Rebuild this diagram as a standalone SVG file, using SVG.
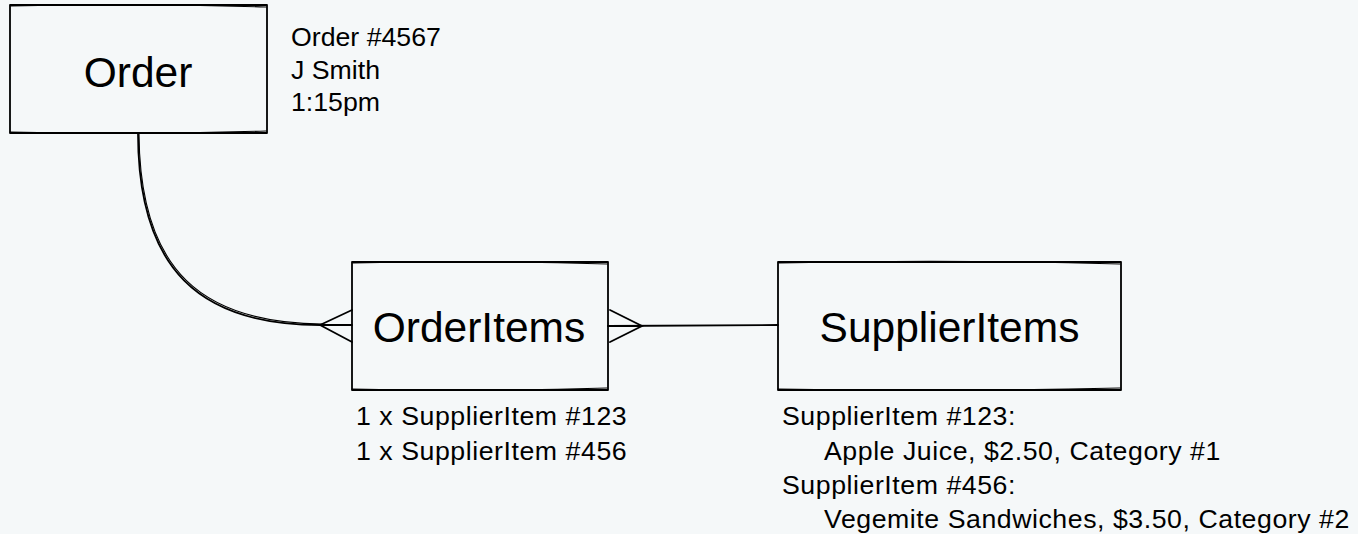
<svg xmlns="http://www.w3.org/2000/svg" width="1358" height="534" viewBox="0 0 1358 534">
<style>
.box{fill:none;stroke:#000;stroke-width:1.8;stroke-linejoin:round;stroke-linecap:round}
.sk{fill:none;stroke:#000;stroke-width:1.1;stroke-linecap:round}
.lbl{font-family:"Liberation Sans",Arial,sans-serif;font-size:42.5px;fill:#000;text-anchor:middle}
.note{font-family:"Liberation Sans",Arial,sans-serif;font-size:26.7px;fill:#000}
.wide{letter-spacing:0.55px}
.conn{fill:none;stroke:#000;stroke-width:1.8;stroke-linecap:round}
</style>
<rect x="0" y="0" width="1358" height="534" fill="#f5f8f9"/>
<g id="connectors">
  <path class="conn" d="M138,133 C138,270 200,325 320,325"/>
  <path class="sk" d="M139,134 C140,272 203,323 322,324"/>
  <path class="conn" d="M320,325 L352,310 M320,325 L352,342 M320,325 L352,325"/>
  <path class="conn" d="M608,326 L778,325"/>
  <path class="conn" d="M610,310 L642,326 L610,342 M608,326 L642,326"/>
</g>
<g id="order">
  <rect class="box" x="10" y="5" width="257" height="128"/>
  <path class="sk" d="M11,6 Q140,3 266,7 M10,132 Q140,135 266,131"/>
  <text class="lbl" x="138" y="87">Order</text>
</g>
<g id="order-note">
  <text class="note" x="291" y="46">Order #4567</text>
  <text class="note" x="291" y="79">J Smith</text>
  <text class="note" x="291" y="111">1:15pm</text>
</g>
<g id="orderitems">
  <rect class="box" x="352" y="262" width="256" height="128"/>
  <path class="sk" d="M353,263 Q480,260 607,264 M352,389 Q480,392 607,388"/>
  <text class="lbl" x="479" y="342">OrderItems</text>
</g>
<g id="orderitems-note">
  <text class="note wide" x="356" y="425">1 x SupplierItem #123</text>
  <text class="note wide" x="356" y="460">1 x SupplierItem #456</text>
</g>
<g id="supplieritems">
  <rect class="box" x="778" y="262" width="343" height="128"/>
  <path class="sk" d="M779,263 Q950,259 1120,264 M778,389 Q950,392 1120,388"/>
  <text class="lbl" x="949.5" y="342">SupplierItems</text>
</g>
<g id="supplieritems-note">
  <text class="note wide" x="782" y="425">SupplierItem #123:</text>
  <text class="note wide" x="824" y="460">Apple Juice, $2.50, Category #1</text>
  <text class="note wide" x="782" y="494">SupplierItem #456:</text>
  <text class="note wide" x="824" y="528">Vegemite Sandwiches, $3.50, Category #2</text>
</g>
</svg>
